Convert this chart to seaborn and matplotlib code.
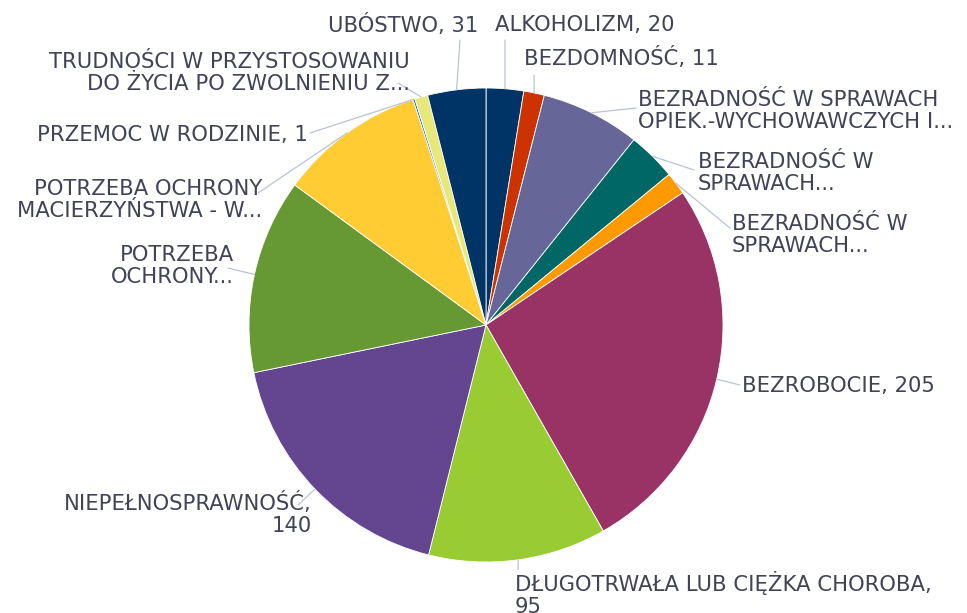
import matplotlib
matplotlib.use("Agg")
import matplotlib.pyplot as plt
import seaborn as sns
import numpy as np

sns.set_theme(style="white")
plt.rcParams['font.family'] = ['DejaVu Sans']

labels = [
    "ALKOHOLIZM, 20",
    "BEZDOMNOŚĆ, 11",
    "BEZRADNOŚĆ W SPRAWACH\nOPIEK.-WYCHOWAWCZYCH I...",
    "BEZRADNOŚĆ W\nSPRAWACH...",
    "BEZRADNOŚĆ W\nSPRAWACH...",
    "BEZROBOCIE, 205",
    "DŁUGOTRWAŁA LUB CIĘŻKA CHOROBA,\n95",
    "NIEPEŁNOSPRAWNOŚĆ,\n140",
    "POTRZEBA\nOCHRONY...",
    "POTRZEBA OCHRONY\nMACIERZYŃSTWA - W...",
    "PRZEMOC W RODZINIE, 1",
    "TRUDNOŚCI W PRZYSTOSOWANIU\nDO ŻYCIA PO ZWOLNIENIU Z...",
    "UBÓSTWO, 31",
]
values = [20, 11, 53, 26, 12, 205, 95, 140, 104, 78, 1, 7, 31]
colors = ["#003366", "#CC3300", "#666699", "#006666", "#FF9900", "#993366",
          "#99CC33", "#634590", "#669933", "#FFCC33", "#0066CC", "#E8E87A",
          "#003366"]

# label layout in image pixels: text anchor x, y, ha, leader end x, y
layout = [
    (495, 25, "left", 505, 40),
    (524, 58, "left", 534, 75),
    (638, 111, "left", 636, 108),
    (698, 173, "left", 694, 170),
    (732, 235, "left", 730, 228),
    (742, 386, "left", 740, 385),
    (515, 594, "left", 518, 570),
    (312, 514, "right", 298, 505),
    (234, 266, "right", 228, 268),
    (262, 200, "right", 258, 193),
    (308, 135, "right", 310, 133),
    (410, 73, "right", 398, 83),
    (478, 25, "right", 460, 40),
]

W, H = 967, 613
cx, cy, r = 486, 325, 237

fig = plt.figure(figsize=(W / 100, H / 100), dpi=100)
ax = fig.add_axes([0, 0, 1, 1])

wedges, _ = ax.pie(values, colors=colors, startangle=90, counterclock=False,
                   radius=1.0, wedgeprops=dict(edgecolor="white", linewidth=0.6))

ax.set_xlim(-cx / r, (W - cx) / r)
ax.set_ylim(-(H - cy) / r, cy / r)
ax.set_aspect("equal")
ax.axis("off")


def px(x, y):
    return (x - cx) / r, (cy - y) / r


text_color = "#404456"
line_color = "#B8C3D6"
for w, lab, (tx, ty, ha, lx, ly) in zip(wedges, labels, layout):
    mid = np.deg2rad((w.theta1 + w.theta2) / 2)
    ex, ey = np.cos(mid) * w.r, np.sin(mid) * w.r
    ax.plot([ex, px(lx, ly)[0]], [ey, px(lx, ly)[1]], color=line_color, lw=0.9, zorder=1)
    ax.text(*px(tx, ty), lab, ha=ha, va="center", multialignment=ha if "\n" in lab else None,
            fontsize=15.2, color=text_color, linespacing=1.12)

fig.savefig("out.png", dpi=100)
